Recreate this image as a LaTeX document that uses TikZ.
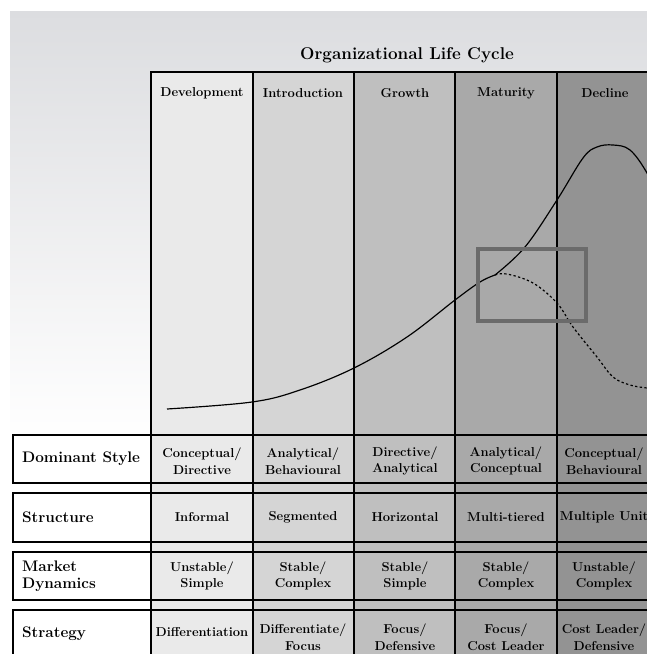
\documentclass[tikz,border=0pt]{standalone}
\usepackage{xcolor}
\usepackage{tikz}
\usetikzlibrary{shapes,arrows,positioning}
\definecolor{bgtop}{RGB}{220,221,224}
\definecolor{devfill}{RGB}{234,234,234}
\definecolor{intfill}{RGB}{213,213,213}
\definecolor{grofill}{RGB}{191,191,191}
\definecolor{matfill}{RGB}{169,169,169}
\definecolor{decfill}{RGB}{147,147,147}
\definecolor{framegray}{RGB}{107,107,107}
\tikzstyle{title} = [font=\fontsize{14.5}{17}\selectfont\bfseries]
\tikzstyle{header} = [font=\fontsize{11}{13}\selectfont\bfseries, text centered]
\tikzstyle{cell} = [font=\fontsize{11}{14}\selectfont\bfseries, align=center]
\tikzstyle{rowlabel} = [font=\fontsize{13}{14.5}\selectfont\bfseries, align=left,
    anchor=west]
\tikzstyle{rowbox} = [draw, line width=1.2pt]
\tikzstyle{divider} = [draw, line width=1.2pt]
\tikzstyle{curve} = [draw, line width=1pt]

\begin{document}
\begin{tikzpicture}[x=0.85pt, y=-0.85pt]
    \useasboundingbox (0,0) rectangle (647,654);
    \clip (0,0) rectangle (647,654);
    % Background
    \shade [top color=bgtop, bottom color=white] (10,11) rectangle (660,440);
    \fill [white] (10,440) rectangle (660,660);
    % Phase columns
    \fill [devfill] (151,72) rectangle (253,660);
    \fill [intfill] (253,72) rectangle (354,660);
    \fill [grofill] (354,72) rectangle (455,660);
    \fill [matfill] (455,72) rectangle (557,660);
    \fill [decfill] (557,72) rectangle (660,660);
    % Row boxes
    \fill [white] (13,435) rectangle (151,483);
    \fill [white] (13,493) rectangle (151,542);
    \fill [white] (13,552) rectangle (151,600);
    \fill [white] (13,610) rectangle (151,662);
    \path [rowbox] (13,435) rectangle (700,483);
    \path [rowbox] (13,493) rectangle (700,542);
    \path [rowbox] (13,552) rectangle (700,600);
    \path [rowbox] (13,610) rectangle (700,662);
    % Column dividers
    \path [divider] (151,662) -- (151,72) -- (700,72);
    \path [divider] (253,72) -- (253,662);
    \path [divider] (354,72) -- (354,662);
    \path [divider] (455,72) -- (455,662);
    \path [divider] (557,72) -- (557,662);
    % Curves
    \path [curve] plot [smooth, tension=0.6] coordinates {(167,409) (252,402)
        (300,390) (354,368) (407,337) (455,300) (480,282) (495,275)};
    \path [curve] plot [smooth, tension=0.6] coordinates {(495,275) (525,247)
        (557,200) (583,158) (597,147) (613,145) (630,150) (647,173) (662,205)};
    \path [curve, dash pattern=on 2pt off 2pt] plot [smooth, tension=0.6]
        coordinates {(495,275) (507,274) (533,283) (557,303) (573,327)
        (597,357) (613,377) (630,385) (647,388) (660,389)};
    \draw [framegray, line width=3.4pt] (478,249) rectangle (586,321);
    % Place nodes
    \node [title] (lifecycle) at (407,55) {Organizational Life Cycle};
    \node [header] (development) at (202,93) {Development};
    \node [header] (introduction) at (303,93) {Introduction};
    \node [header] (growth) at (405,93) {Growth};
    \node [header] (maturity) at (506,93) {Maturity};
    \node [header] (decline) at (605,93) {Decline};
    \node [rowlabel] (style) at (18,459) {Dominant Style};
    \node [rowlabel] (structure) at (18,517) {Structure};
    \node [rowlabel] (market) at (18,576) {Market\\Dynamics};
    \node [rowlabel] (strategy) at (18,634) {Strategy};
    % Dominant style
    \node [cell] (styledev) at (202,461) {Conceptual/\\Directive};
    \node [cell] (styleint) at (303,461) {Analytical/\\Behavioural};
    \node [cell] (stylegro) at (405,461) {Directive/\\Analytical};
    \node [cell] (stylemat) at (506,461) {Analytical/\\Conceptual};
    \node [cell] (styledec) at (604,461) {Conceptual/\\Behavioural};
    % Structure
    \node [cell] (structdev) at (202,517) {Informal};
    \node [cell] (structint) at (303,517) {Segmented};
    \node [cell] (structgro) at (405,517) {Horizontal};
    \node [cell] (structmat) at (506,517) {Multi-tiered};
    \node [cell] (structdec) at (607,517) {Multiple Units};
    % Market dynamics
    \node [cell] (marketdev) at (202,576) {Unstable/\\Simple};
    \node [cell] (marketint) at (303,576) {Stable/\\Complex};
    \node [cell] (marketgro) at (405,576) {Stable/\\Simple};
    \node [cell] (marketmat) at (506,576) {Stable/\\Complex};
    \node [cell] (marketdec) at (604,576) {Unstable/\\Complex};
    % Strategy
    \node [cell] (stratdev) at (202,632) {Differentiation};
    \node [cell] (stratint) at (303,637) {Differentiate/\\Focus};
    \node [cell] (stratgro) at (405,637) {Focus/\\Defensive};
    \node [cell] (stratmat) at (506,637) {Focus/\\Cost Leader};
    \node [cell] (stratdec) at (604,637) {Cost Leader/\\Defensive};
  \end{tikzpicture}
\end{document}
